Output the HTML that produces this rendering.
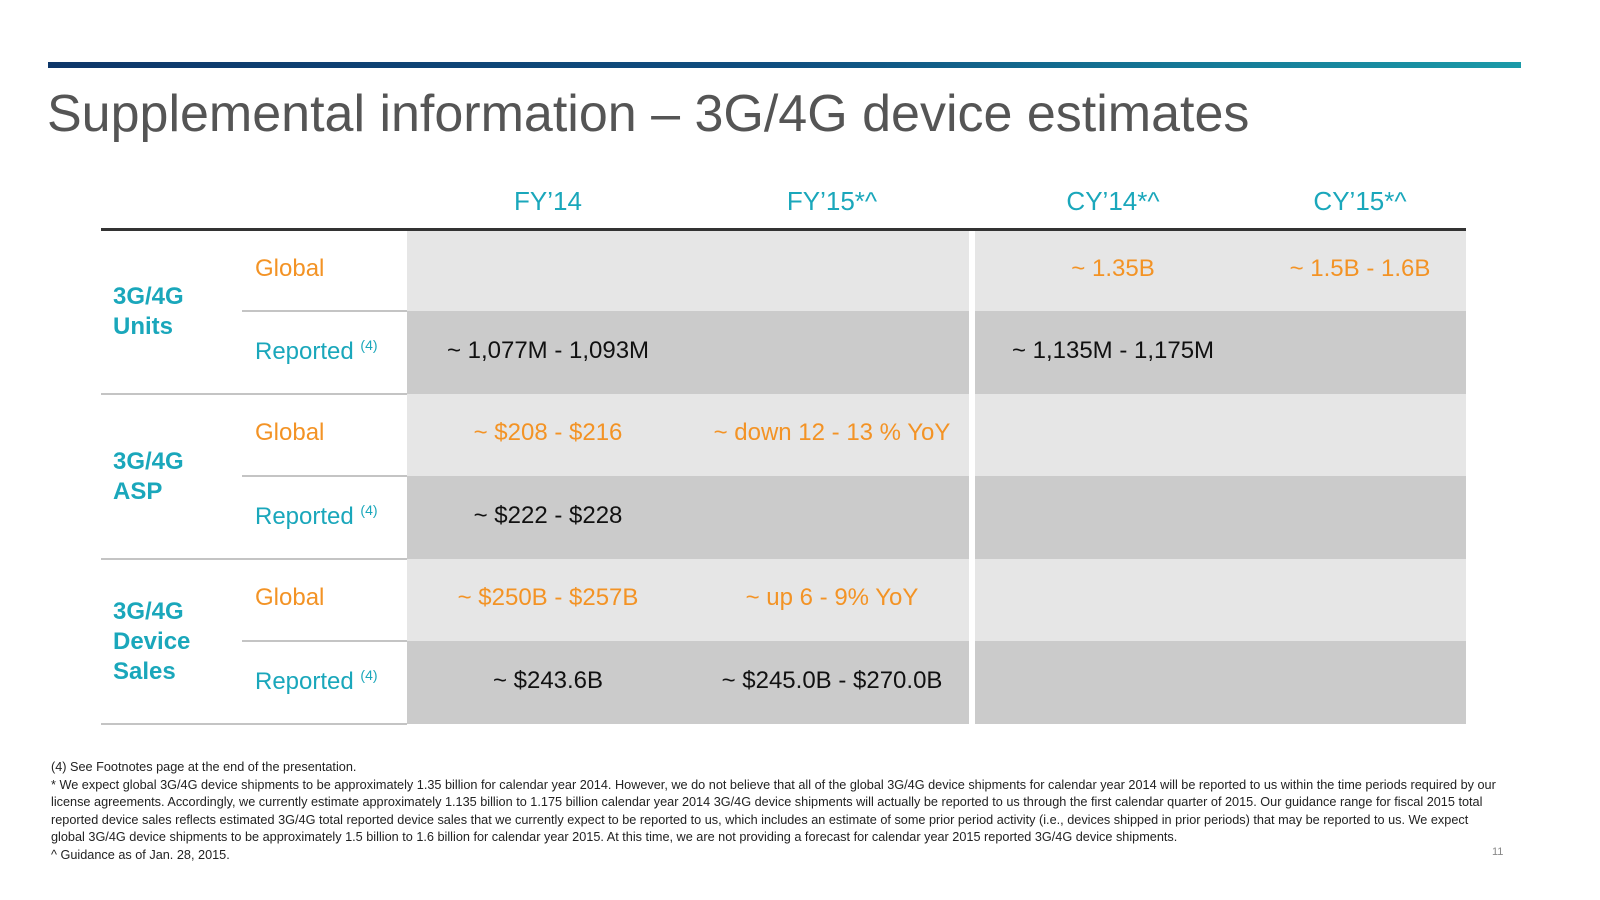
<!DOCTYPE html>
<html><head><meta charset="utf-8"><style>
body{margin:0;width:1600px;height:900px;background:#fff;position:relative;overflow:hidden;font-family:"Liberation Sans",sans-serif}
.a{position:absolute}
.bar{left:48px;top:62px;width:1473px;height:6px;background:linear-gradient(90deg,#0e3769,#0f4f80 50%,#1a9aa8)}
.title{left:47px;top:84px;font-size:52px;color:#555;white-space:nowrap;letter-spacing:0px}
.hd{top:186px;font-size:26px;color:#1aa7bb;width:260px;text-align:center;margin-left:-130px}
.v{font-size:24px;width:300px;text-align:center;margin-left:-150px;white-space:nowrap}
.o{color:#f39325}.k{color:#111}.t{color:#1aa7bb}
.grp{left:113px;font-size:24px;font-weight:bold;color:#1aa7bb;line-height:30px}
.sub{left:255px;font-size:24px;white-space:nowrap}
.sub sup{font-size:14px}
.fn{left:51px;top:759px;width:1450px;font-size:12.7px;line-height:17.6px;color:#222}
</style></head><body>
<div class="a bar"></div>
<div class="a title">Supplemental information – 3G/4G device estimates</div>

<div class="a hd" style="left:548px">FY’14</div>
<div class="a hd" style="left:832px">FY’15*^</div>
<div class="a hd" style="left:1113px">CY’14*^</div>
<div class="a hd" style="left:1360px">CY’15*^</div>
<div class="a" style="left:101px;top:228px;width:1365px;height:3px;background:#333"></div>

<div id="rows"></div>
<div class="a" style="left:969px;top:231px;width:6px;height:493px;background:#fff"></div>

<div class="a grp" style="top:282px">3G/4G<br>Units</div>
<div class="a grp" style="top:447px">3G/4G<br>ASP</div>
<div class="a grp" style="top:597px">3G/4G<br>Device<br>Sales</div>

<div class="a fn">(4) See Footnotes page at the end of the presentation.<br>* We expect global 3G/4G device shipments to be approximately 1.35 billion for calendar year 2014. However, we do not believe that all of the global 3G/4G device shipments for calendar year 2014 will be reported to us within the time periods required by our license agreements. Accordingly, we currently estimate approximately 1.135 billion to 1.175 billion calendar year 2014 3G/4G device shipments will actually be reported to us through the first calendar quarter of 2015. Our guidance range for fiscal 2015 total reported device sales reflects estimated 3G/4G total reported device sales that we currently expect to be reported to us, which includes an estimate of some prior period activity (i.e., devices shipped in prior periods) that may be reported to us. We expect global 3G/4G device shipments to be approximately 1.5 billion to 1.6 billion for calendar year 2015. At this time, we are not providing a forecast for calendar year 2015 reported 3G/4G device shipments.<br>^ Guidance as of Jan. 28, 2015.</div>
<div class="a" style="left:1492px;top:846px;font-size:11px;color:#888">11</div>

<script>
const rowTops=[231,311,394,476,559,641];
const vals=[
 ["","","~ 1.35B","~ 1.5B - 1.6B"],
 ["~ 1,077M - 1,093M","","~ 1,135M - 1,175M",""],
 ["~ $208 - $216","~ down 12 - 13 % YoY","",""],
 ["~ $222 - $228","","",""],
 ["~ $250B - $257B","~ up 6 - 9% YoY","",""],
 ["~ $243.6B","~ $245.0B - $270.0B","",""]];
const centers=[548,832,1113,1360];
const c=document.getElementById('rows');
rowTops.forEach((top,i)=>{
 const h=(rowTops[i+1]||724)-top;
 const g=i%2===0;
 let bg=document.createElement('div');bg.className='a';
 bg.style.cssText=`left:407px;top:${top}px;width:1059px;height:${h}px;background:${g?'#e6e6e6':'#cbcbcb'}`;
 
 
 c.appendChild(bg);
 let ln=document.createElement('div');ln.className='a';
 ln.style.cssText=`left:${g?242:101}px;top:${top+h-1}px;width:${g?165:306}px;height:2px;background:#c4c4c4`;
 
 
 c.appendChild(ln);
 let s=document.createElement('div');s.className='a sub '+(g?'o':'t');
 s.style.top=(top+h/2-16)+'px';
 s.innerHTML=g?'Global':'Reported <sup>(4)</sup>';
 
 
 c.appendChild(s);
 vals[i].forEach((t,j)=>{ if(!t)return;
  let d=document.createElement('div');d.className='a v '+(g?'o':'k');
  d.style.left=centers[j]+'px';d.style.top=(top+h/2-16)+'px';d.textContent=t;
  
  
  c.appendChild(d);});
});
</script>
</body></html>
